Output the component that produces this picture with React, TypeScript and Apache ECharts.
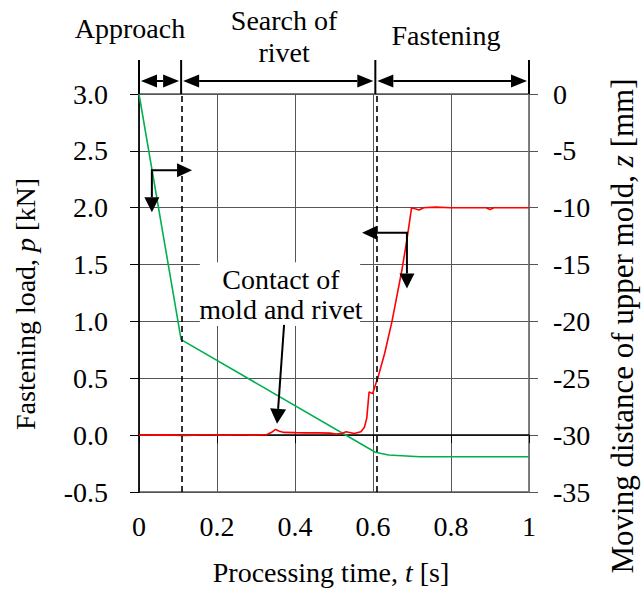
import { useEffect, useRef } from "react";
import * as echarts from "echarts";

// Fastening load p [kN] vs processing time t [s]
const loadTime = [0, 0.03, 0.06, 0.09, 0.11, 0.14, 0.17, 0.2, 0.23, 0.26, 0.29, 0.31, 0.327, 0.34, 0.35, 0.36, 0.372, 0.4, 0.43, 0.46, 0.49, 0.505, 0.52, 0.531, 0.552, 0.569, 0.578, 0.584, 0.59, 0.599, 0.608, 0.613, 0.63, 0.648, 0.66, 0.674, 0.687, 0.699, 0.708, 0.718, 0.73, 0.76, 0.8, 0.85, 0.89, 0.9, 0.91, 0.95, 1.0];
const loadKN = [0, 0, 0.002, 0, -0.003, 0, 0.003, 0, 0, 0.004, 0, 0.002, 0.003, 0.025, 0.05, 0.035, 0.024, 0.022, 0.02, 0.02, 0.018, 0.01, 0.015, 0.03, 0.015, 0.03, 0.07, 0.15, 0.38, 0.365, 0.46, 0.51, 0.72, 0.99, 1.2, 1.45, 1.72, 2.0, 1.99, 1.98, 2.0, 2.005, 2.0, 2.0, 2.0, 1.985, 2.0, 2.0, 2.0];

// Moving distance of upper mold z [mm] vs processing time t [s]
const moveTime = [0, 0.108, 0.606, 0.64, 0.72, 1.0];
const moveMM = [0, -21.6, -31.5, -31.75, -31.9, -31.9];

// Phases above the plot
const phaseBounds = [0, 0.108, 0.606, 1];
const phaseLabels = ["Approach", "Search of\nrivet", "Fastening"];
const phaseLabelT = [-0.023, 0.372, 0.787];

// Annotation anchors (data coordinates t, p)
const greenArrowCorner: [number, number] = [0.033, 2.33];
const greenArrowRightTipT = 0.136;
const greenArrowDownTipP = 1.96;
const redArrowCorner: [number, number] = [0.687, 1.78];
const redArrowLeftTipT = 0.572;
const redArrowDownTipP = 1.29;
const contactArrowFrom: [number, number] = [0.372, 0.97];
const contactArrowTo: [number, number] = [0.354, 0.1];
const contactBoxT = [0.156, 0.567];
const contactBoxP = [1.52, 0.96];
const contactLabelAt: [number, number] = [0.364, 1.236];

const FONT = "Liberation Serif, Times New Roman, serif";

export default function App() {
  const ref = useRef<HTMLDivElement>(null);
  useEffect(() => {
    if (!ref.current) return;
    const chart = echarts.init(ref.current, undefined, { renderer: "svg" });
    const option: any = {
      animation: false,
      backgroundColor: "#fff",
      textStyle: { fontFamily: FONT },
      grid: { left: 139, right: 113, top: 94, bottom: 98, show: true, borderColor: "#000", borderWidth: 1, backgroundColor: "transparent" },
      xAxis: {
        type: "value",
        min: 0,
        max: 1,
        interval: 0.2,
        axisLine: { lineStyle: { color: "#000", width: 1.5 } },
        axisTick: { show: true, inside: false, length: 8, lineStyle: { color: "#000" } },
        splitLine: { show: true, lineStyle: { color: "#555", width: 1 } },
        axisLabel: {
          fontSize: 28, color: "#000", fontFamily: FONT, margin: 20,
          formatter: (v: number) => (v === 0 ? "0" : v === 1 ? "1" : v.toFixed(1)),
        },
      },
      yAxis: [
        {
          type: "value",
          position: "left",
          min: -0.5,
          max: 3,
          interval: 0.5,
          axisLine: { show: true, lineStyle: { color: "#000", width: 1.5 } },
          axisTick: { show: true, length: 9, lineStyle: { color: "#000" } },
          splitLine: { show: true, lineStyle: { color: "#555", width: 1 } },
          axisLabel: { fontSize: 28, color: "#000", fontFamily: FONT, margin: 31, formatter: (v: number) => v.toFixed(1) },
        },
        {
          type: "value",
          position: "right",
          min: -35,
          max: 0,
          interval: 5,
          axisLine: { show: true, lineStyle: { color: "#808080", width: 1.5 } },
          axisTick: { show: true, length: 9, lineStyle: { color: "#555" } },
          splitLine: { show: false },
          axisLabel: { fontSize: 28, color: "#000", fontFamily: FONT, margin: 24, formatter: (v: number) => String(v) },
        },
      ],
      series: [
        {
          name: "z",
          type: "line",
          yAxisIndex: 1,
          symbol: "none",
          data: moveTime.map((t, i) => [t, moveMM[i]]),
          lineStyle: { color: "#00b050", width: 1.6 },
          itemStyle: { color: "#00b050" },
          z: 3,
          markLine: {
            silent: true,
            symbol: "none",
            label: { show: false },
            lineStyle: { color: "#000", width: 1.6, type: [6, 4] },
            data: [{ xAxis: phaseBounds[1] }, { xAxis: phaseBounds[2] }],
          },
        },
        {
          name: "p",
          type: "line",
          yAxisIndex: 0,
          symbol: "none",
          data: loadTime.map((t, i) => [t, loadKN[i]]),
          lineStyle: { color: "#ff0000", width: 1.6 },
          itemStyle: { color: "#ff0000" },
          z: 4,
        },
      ],
    };
    chart.setOption(option);

    const px = (t: number, p: number): number[] => chart.convertToPixel({ xAxisIndex: 0, yAxisIndex: 0 }, [t, p]) as number[];
    const head = (tip: number[], from: number[], L: number, W: number) => {
      const dx = tip[0] - from[0];
      const dy = tip[1] - from[1];
      const len = Math.hypot(dx, dy) || 1;
      const ux = dx / len, uy = dy / len;
      const bx = tip[0] - ux * L, by = tip[1] - uy * L;
      const nx = -uy, ny = ux;
      return {
        base: [bx, by],
        poly: {
          type: "polygon",
          z: 20,
          shape: { points: [tip, [bx + (nx * W) / 2, by + (ny * W) / 2], [bx - (nx * W) / 2, by - (ny * W) / 2]] },
          style: { fill: "#000" },
        },
      };
    };
    const line = (a: number[], b: number[], w = 2) => ({
      type: "line", z: 20, shape: { x1: a[0], y1: a[1], x2: b[0], y2: b[1] }, style: { stroke: "#000", lineWidth: w },
    });

    const els: any[] = [];
    // top bracket
    const topY = px(0, 3)[1];
    const bracketTop = topY - 34;
    const arrowY = topY - 13;
    phaseBounds.forEach((t) => {
      const x = px(t, 3)[0];
      els.push(line([x, bracketTop], [x, topY], 2));
    });
    for (let i = 0; i < phaseBounds.length - 1; i++) {
      const xa = px(phaseBounds[i], 3)[0] + 2;
      const xb = px(phaseBounds[i + 1], 3)[0] - 2;
      const h1 = head([xa, arrowY], [xb, arrowY], 16, 13);
      const h2 = head([xb, arrowY], [xa, arrowY], 16, 13);
      els.push(line(h1.base, h2.base, 2), h1.poly, h2.poly);
    }
    // phase labels
    const labelY = [28, 36, 35];
    phaseLabels.forEach((s, i) => {
      els.push({
        type: "text", z: 20,
        x: px(phaseLabelT[i], 3)[0], y: labelY[i],
        style: { text: s, fontFamily: FONT, fontSize: 28, lineHeight: 32, fill: "#000", align: "center", verticalAlign: "middle" },
      });
    });
    // green arrow (right axis)
    {
      const c = px(greenArrowCorner[0], greenArrowCorner[1]);
      const r = px(greenArrowRightTipT, greenArrowCorner[1]);
      const d = px(greenArrowCorner[0], greenArrowDownTipP);
      const hr = head(r, c, 15, 14);
      const hd = head(d, c, 15, 15);
      els.push({ type: "polyline", z: 20, shape: { points: [hr.base, c, hd.base] }, style: { stroke: "#000", lineWidth: 2, fill: null } }, hr.poly, hd.poly);
    }
    // red arrow (left axis)
    {
      const c = px(redArrowCorner[0], redArrowCorner[1]);
      const l = px(redArrowLeftTipT, redArrowCorner[1]);
      const d = px(redArrowCorner[0], redArrowDownTipP);
      const hl = head(l, c, 15, 14);
      const hd = head(d, c, 15, 15);
      els.push({ type: "polyline", z: 20, shape: { points: [hl.base, c, hd.base] }, style: { stroke: "#000", lineWidth: 2, fill: null } }, hl.poly, hd.poly);
    }
    // contact label box
    {
      const a = px(contactBoxT[0], contactBoxP[0]);
      const b = px(contactBoxT[1], contactBoxP[1]);
      els.push({ type: "rect", z: 18, shape: { x: a[0], y: a[1], width: b[0] - a[0], height: b[1] - a[1] }, style: { fill: "#fff" } });
      const c = px(contactLabelAt[0], contactLabelAt[1]);
      els.push({
        type: "text", z: 20, x: c[0], y: c[1],
        style: { text: "Contact of\nmold and rivet", fontFamily: FONT, fontSize: 28, lineHeight: 30, fill: "#000", align: "center", verticalAlign: "middle" },
      });
      const f = px(contactArrowFrom[0], contactArrowFrom[1]);
      const t = px(contactArrowTo[0], contactArrowTo[1]);
      const h = head(t, f, 15, 16);
      els.push(line(f, h.base, 2), h.poly);
    }
    // axis titles
    const gridMidX = (px(0, 0)[0] + px(1, 0)[0]) / 2;
    const rich = (fs: number) => ({
      a: { fontFamily: FONT, fontSize: fs, fill: "#000" },
      i: { fontFamily: FONT, fontSize: fs, fontStyle: "italic", fill: "#000" },
    });
    els.push({
      type: "text", z: 20, x: gridMidX - 3, y: 572,
      style: { text: "{a|Processing time, }{i|t}{a| [s]}", fontFamily: FONT, fontSize: 28, fill: "#000", align: "center", verticalAlign: "middle", rich: rich(28) },
    });
    els.push({
      type: "text", z: 20, x: 25, y: 304, rotation: Math.PI / 2,
      style: { text: "{a|Fastening load, }{i|p}{a| [kN]}", fontFamily: FONT, fontSize: 28, fill: "#000", align: "center", verticalAlign: "middle", rich: rich(28) },
    });
    els.push({
      type: "text", z: 20, x: 622, y: 326, rotation: Math.PI / 2,
      style: { text: "{a|Moving distance of upper mold, }{i|z}{a| [mm]}", fontFamily: FONT, fontSize: 31, fill: "#000", align: "center", verticalAlign: "middle", rich: rich(31) },
    });
    chart.setOption({ graphic: { elements: els } });

    return () => chart.dispose();
  }, []);
  return <div ref={ref} style={{ position: "fixed", left: 0, top: 0, width: 642, height: 590 }} />;
}
